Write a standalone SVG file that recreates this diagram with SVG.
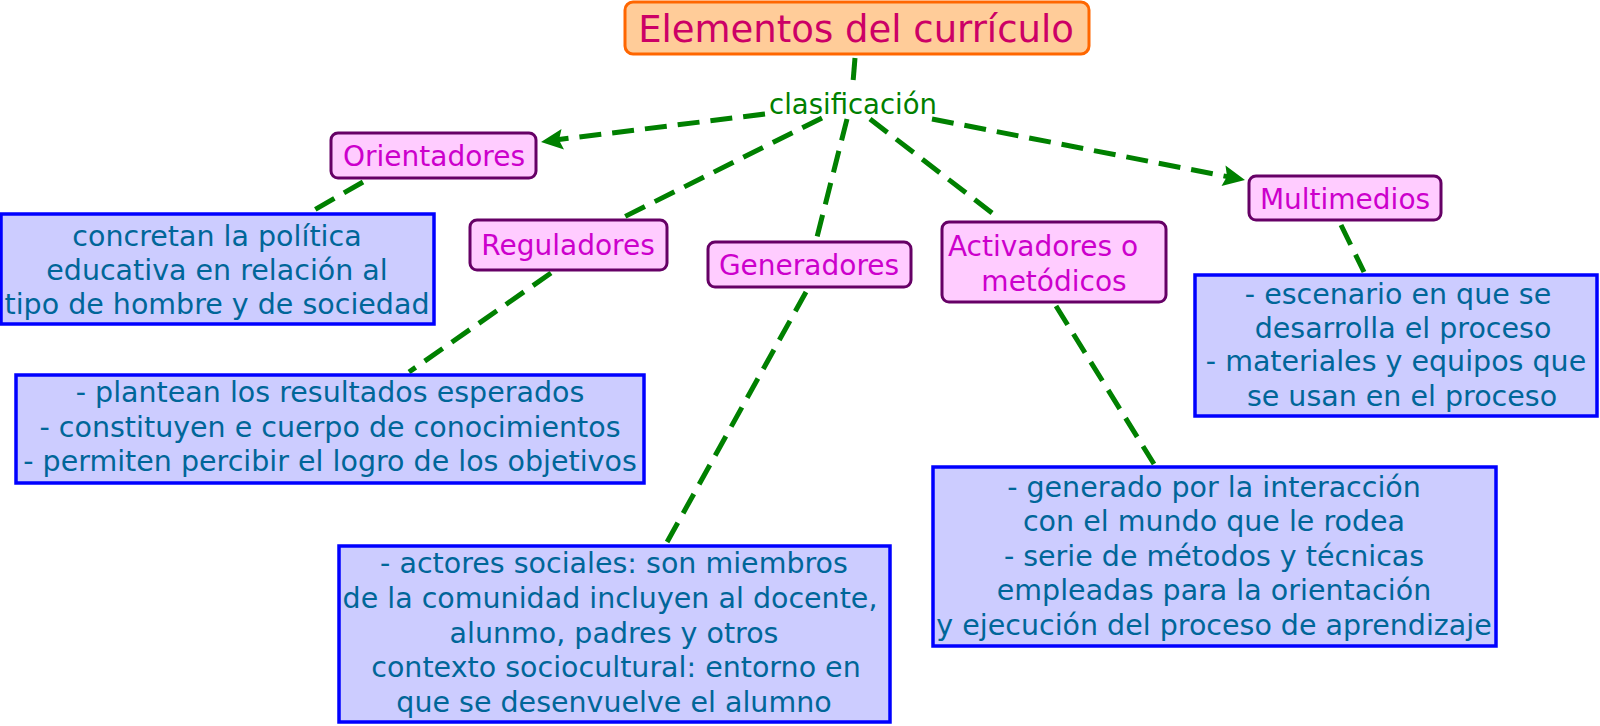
<svg xmlns="http://www.w3.org/2000/svg" width="1600" height="726" viewBox="0 0 1600 726">
<defs>
<style>
.title{fill:#ffcc99;stroke:#ff6600;stroke-width:3}
.titletx{font-family:"DejaVu Sans",Verdana,sans-serif;font-size:37px;fill:#cc0066;text-anchor:middle}
.node{fill:#ffccff;stroke:#660066;stroke-width:3}
.nodetx{font-family:"DejaVu Sans",Verdana,sans-serif;font-size:28px;fill:#cc00cc;text-anchor:middle}
.box{fill:#ccccff;stroke:#0000ff;stroke-width:3.5}
.boxtx{font-family:"DejaVu Sans",Verdana,sans-serif;font-size:28.5px;fill:#006699;text-anchor:middle}
.lbl{font-family:"DejaVu Sans",Verdana,sans-serif;font-size:27.5px;fill:#008000;text-anchor:middle}
.con{stroke:#008000;stroke-width:5;stroke-dasharray:22 11;fill:none}
.head{fill:#008000}
</style>
</defs>
<rect width="1600" height="726" fill="#ffffff"/>
<g id="connectors">
<line class="con" x1="855" y1="58" x2="853" y2="82"/>
<line class="con" x1="765" y1="114" x2="555" y2="140"/>
<polygon class="head" points="541,142 564,149.5 559,140 561.5,129"/>
<line class="con" x1="822" y1="118" x2="624" y2="217"/>
<line class="con" x1="847" y1="119" x2="817" y2="237"/>
<line class="con" x1="870" y1="119" x2="1000" y2="219"/>
<line class="con" x1="932" y1="119" x2="1232" y2="177.5"/>
<polygon class="head" points="1245,180 1221.5,186 1227,176.6 1225.5,165.5"/>
<line class="con" x1="363" y1="182" x2="309" y2="213"/>
<line class="con" x1="551" y1="273" x2="409" y2="372"/>
<line class="con" x1="806" y1="292" x2="666" y2="544"/>
<line class="con" x1="1056" y1="306" x2="1154" y2="464"/>
<line class="con" x1="1341" y1="225" x2="1364" y2="272"/>
</g>
<g id="title">
<rect class="title" x="625" y="2" width="464" height="52" rx="8"/>
<text class="titletx" x="856" y="42">Elementos del currículo</text>
</g>
<g id="clasificacion">
<text class="lbl" x="853" y="114">clasificación</text>
</g>
<g id="orientadores">
<rect class="node" x="331" y="133" width="205" height="45" rx="7"/>
<text class="nodetx" x="434" y="166">Orientadores</text>
</g>
<g id="reguladores">
<rect class="node" x="470" y="220" width="197" height="50" rx="7"/>
<text class="nodetx" x="568" y="255">Reguladores</text>
</g>
<g id="generadores">
<rect class="node" x="708" y="242" width="203" height="45" rx="7"/>
<text class="nodetx" x="809" y="275">Generadores</text>
</g>
<g id="activadores">
<rect class="node" x="942" y="222" width="224" height="80" rx="7"/>
<text class="nodetx" x="1043" y="256">Activadores o</text>
<text class="nodetx" x="1054" y="291">metódicos</text>
</g>
<g id="multimedios">
<rect class="node" x="1249" y="176" width="192" height="44" rx="7"/>
<text class="nodetx" x="1345" y="209">Multimedios</text>
</g>
<g id="box-orientadores">
<rect class="box" x="1" y="214" width="433" height="110"/>
<text class="boxtx" x="217" y="246">concretan la política</text>
<text class="boxtx" x="217" y="280">educativa en relación al</text>
<text class="boxtx" x="217" y="314">tipo de hombre y de sociedad</text>
</g>
<g id="box-reguladores">
<rect class="box" x="16" y="375" width="628" height="108"/>
<text class="boxtx" x="330" y="402">- plantean los resultados esperados</text>
<text class="boxtx" x="330" y="437">- constituyen e cuerpo de conocimientos</text>
<text class="boxtx" x="330" y="471">- permiten percibir el logro de los objetivos</text>
</g>
<g id="box-generadores">
<rect class="box" x="339" y="546" width="551" height="176"/>
<text class="boxtx" x="614" y="573">- actores sociales: son miembros</text>
<text class="boxtx" x="610" y="608">de la comunidad incluyen al docente,</text>
<text class="boxtx" x="614" y="643">alunmo, padres y otros</text>
<text class="boxtx" x="616" y="677">contexto sociocultural: entorno en</text>
<text class="boxtx" x="614" y="712">que se desenvuelve el alumno</text>
</g>
<g id="box-activadores">
<rect class="box" x="933" y="467" width="563" height="179"/>
<text class="boxtx" x="1214" y="497">- generado por la interacción</text>
<text class="boxtx" x="1214" y="531">con el mundo que le rodea</text>
<text class="boxtx" x="1214" y="566">- serie de métodos y técnicas</text>
<text class="boxtx" x="1214" y="600">empleadas para la orientación</text>
<text class="boxtx" x="1214" y="635">y ejecución del proceso de aprendizaje</text>
</g>
<g id="box-multimedios">
<rect class="box" x="1195" y="275" width="402" height="141"/>
<text class="boxtx" x="1398" y="304">- escenario en que se</text>
<text class="boxtx" x="1403" y="338">desarrolla el proceso</text>
<text class="boxtx" x="1396" y="371">- materiales y equipos que</text>
<text class="boxtx" x="1402" y="406">se usan en el proceso</text>
</g>
</svg>
